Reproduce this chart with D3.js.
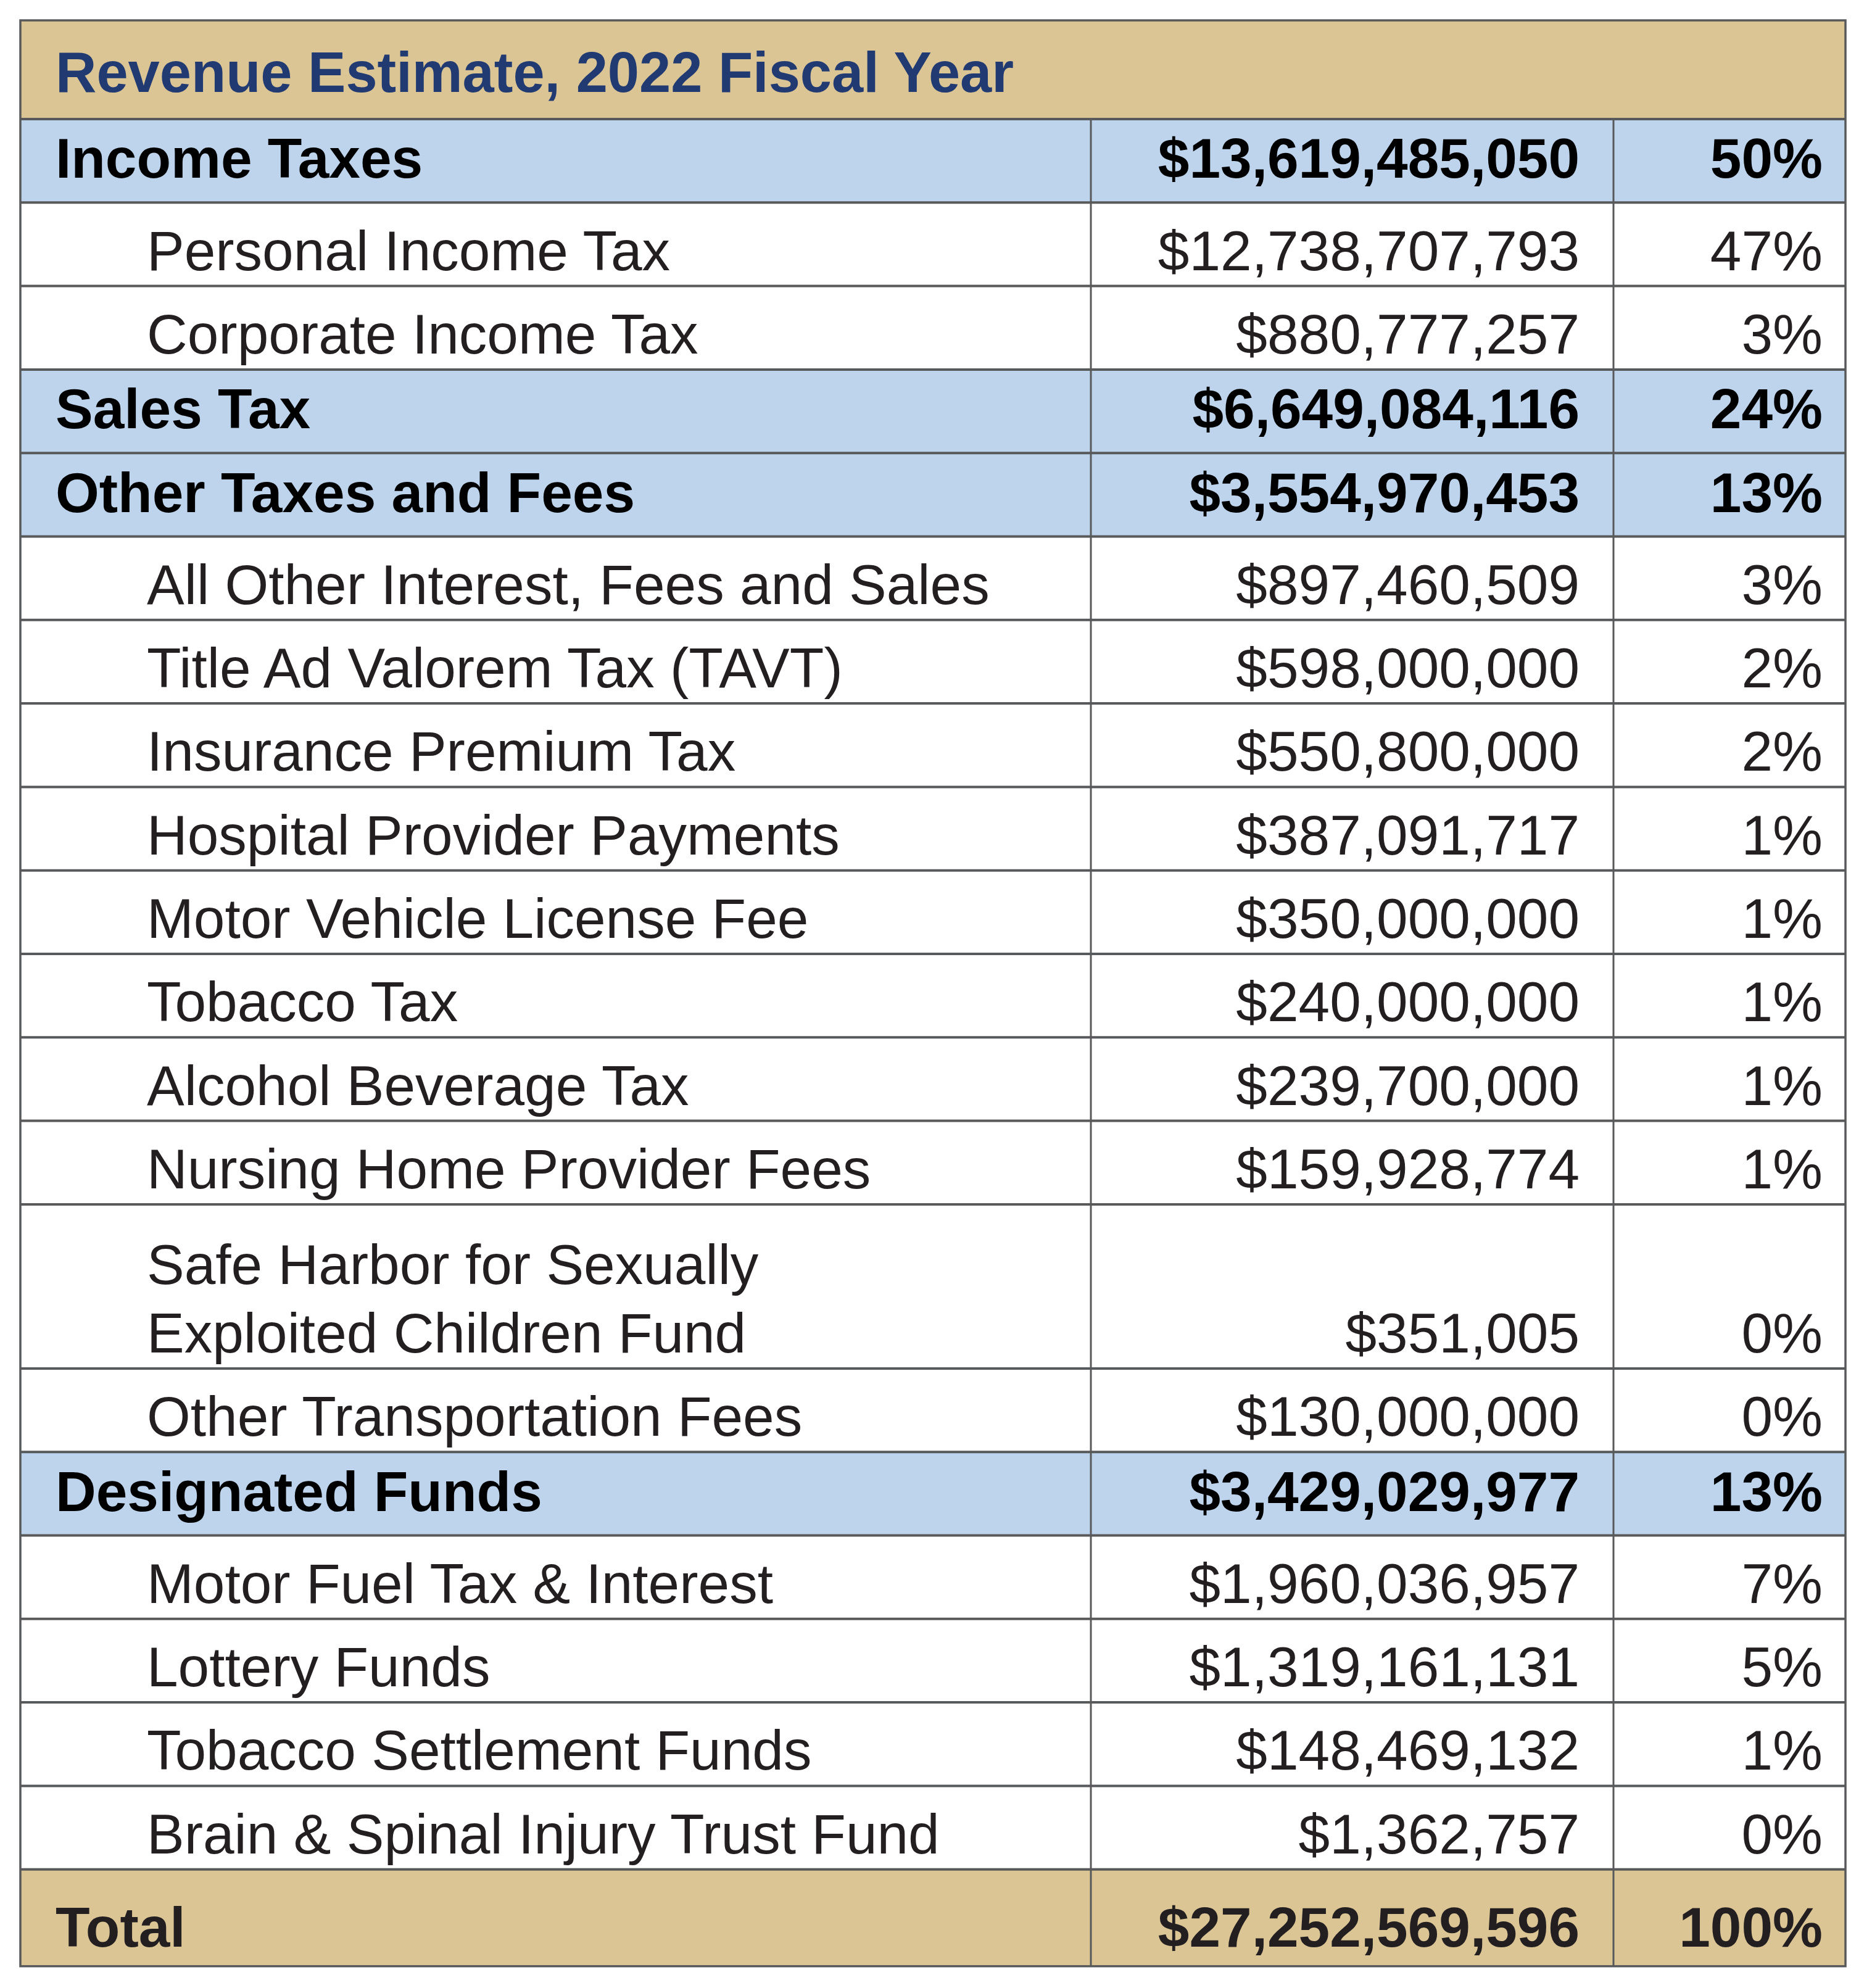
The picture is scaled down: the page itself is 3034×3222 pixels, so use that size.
<!DOCTYPE html>
<html>
<head>
<meta charset="utf-8">
<script src="https://cdn.jsdelivr.net/npm/d3@7"></script>
<style>
  html, body { margin: 0; padding: 0; background: #ffffff; }
  svg { display: block; }
</style>
</head>
<body>
<svg id="chart" width="3034" height="3222"></svg>
<script>
// ---------- data ----------
const title = "Revenue Estimate, 2022 Fiscal Year";
const labels = [
  "Income Taxes",
  "Personal Income Tax",
  "Corporate Income Tax",
  "Sales Tax",
  "Other Taxes and Fees",
  "All Other Interest, Fees and Sales",
  "Title Ad Valorem Tax (TAVT)",
  "Insurance Premium Tax",
  "Hospital Provider Payments",
  "Motor Vehicle License Fee",
  "Tobacco Tax",
  "Alcohol Beverage Tax",
  "Nursing Home Provider Fees",
  "Safe Harbor for Sexually\nExploited Children Fund",
  "Other Transportation Fees",
  "Designated Funds",
  "Motor Fuel Tax & Interest",
  "Lottery Funds",
  "Tobacco Settlement Funds",
  "Brain & Spinal Injury Trust Fund",
  "Total"
];
const amounts = [
  13619485050, 12738707793, 880777257, 6649084116, 3554970453,
  897460509, 598000000, 550800000, 387091717, 350000000,
  240000000, 239700000, 159928774, 351005, 130000000,
  3429029977, 1960036957, 1319161131, 148469132, 1362757,
  27252569596
];
const percents = [
  "50%", "47%", "3%", "24%", "13%",
  "3%", "2%", "2%", "1%", "1%",
  "1%", "1%", "1%", "0%", "0%",
  "13%", "7%", "5%", "1%", "0%",
  "100%"
];
const rowKinds = [
  "group", "item", "item", "group", "group",
  "item", "item", "item", "item", "item",
  "item", "item", "item", "item", "item",
  "group", "item", "item", "item", "item",
  "total"
];

// ---------- layout / style ----------
const tblLeft = 33, tblRight = 2991, tblTop = 33;
const titleH = 160;
const rowH = 135.3, lineGap = 111, totalH = 157, twoLineH = 266;
const col1 = 1768, col2 = 2615;
const valueRight = 2560, pctRight = 2954;
const indentItem = 238, indentGroup = 90;
const fontFamily = "'Liberation Sans', Arial, Helvetica, sans-serif";
const fontSize = 91;
const colors = {
  tan: "#dbc595",
  blue: "#bdd4ec",
  white: "#ffffff",
  line: "#58595b",
  navy: "#213b72",
  text: "#231f20",
  bold: "#000000"
};
const fill = { group: colors.blue, item: colors.white, total: colors.tan };
const bottomPad = { group: 40, item: 26, total: 32 };

const fmt = d3.format("$,");

const rows = labels.map((label, i) => {
  const lines = label.split("\n");
  const kind = rowKinds[i];
  const h = kind === "total" ? totalH : (lines.length > 1 ? twoLineH : rowH);
  return { label, lines, kind, amount: amounts[i], pct: percents[i], h };
});
let yCursor = tblTop + titleH;
rows.forEach(r => { r.y = yCursor; yCursor += r.h; });
const tblBottom = yCursor;

const svg = d3.select("#chart");
svg.append("rect").attr("width", 3034).attr("height", 3222).attr("fill", "#ffffff");

// Title band
svg.append("rect")
  .attr("x", tblLeft).attr("y", tblTop)
  .attr("width", tblRight - tblLeft).attr("height", titleH)
  .attr("fill", colors.tan);
svg.append("text")
  .attr("x", indentGroup).attr("y", tblTop + titleH - 44)
  .attr("font-family", fontFamily).attr("font-size", 92)
  .attr("font-weight", "bold").attr("fill", colors.navy)
  .text(title);

// Row backgrounds
const g = svg.append("g");
const rowG = g.selectAll("g.row").data(rows).join("g").attr("class", "row");
rowG.append("rect")
  .attr("x", tblLeft).attr("y", d => d.y)
  .attr("width", tblRight - tblLeft).attr("height", d => d.h)
  .attr("fill", d => fill[d.kind]);

// Vertical column dividers (rows only, not the title band)
[col1, col2].forEach(x => {
  svg.append("line")
    .attr("x1", x).attr("x2", x)
    .attr("y1", tblTop + titleH).attr("y2", tblBottom)
    .attr("stroke", colors.line).attr("stroke-width", 3);
});

// Horizontal separators
const hLines = [tblTop + titleH].concat(rows.map(r => r.y + r.h)).slice(0, -1);
svg.selectAll("line.h").data(hLines).join("line").attr("class", "h")
  .attr("x1", tblLeft).attr("x2", tblRight)
  .attr("y1", d => d).attr("y2", d => d)
  .attr("stroke", colors.line).attr("stroke-width", 4);

// Outer border
svg.append("rect")
  .attr("x", tblLeft).attr("y", tblTop)
  .attr("width", tblRight - tblLeft).attr("height", tblBottom - tblTop)
  .attr("fill", "none").attr("stroke", colors.line).attr("stroke-width", 3.5);

// Texts
const baseline = d => d.y + d.h - bottomPad[d.kind];
const weight = d => d.kind === "item" ? "normal" : "bold";
const color = d => d.kind === "group" ? colors.bold : colors.text;
const indent = d => d.kind === "item" ? indentItem : indentGroup;

const lab = rowG.append("text")
  .attr("font-family", fontFamily).attr("font-size", fontSize)
  .attr("font-weight", weight).attr("fill", color)
  .attr("x", indent)
  .attr("y", d => baseline(d) - (d.lines.length - 1) * lineGap);
lab.selectAll("tspan")
  .data(d => d.lines.map((t, i) => ({ t, i, x: indent(d) })))
  .join("tspan")
  .attr("x", t => t.x)
  .attr("dy", t => t.i === 0 ? 0 : lineGap)
  .text(t => t.t);

rowG.append("text")
  .attr("font-family", fontFamily).attr("font-size", fontSize)
  .attr("font-weight", weight).attr("fill", color)
  .attr("text-anchor", "end")
  .attr("x", valueRight).attr("y", baseline)
  .text(d => fmt(d.amount));

rowG.append("text")
  .attr("font-family", fontFamily).attr("font-size", fontSize)
  .attr("font-weight", weight).attr("fill", color)
  .attr("text-anchor", "end")
  .attr("x", pctRight).attr("y", baseline)
  .text(d => d.pct);
</script>
</body>
</html>
